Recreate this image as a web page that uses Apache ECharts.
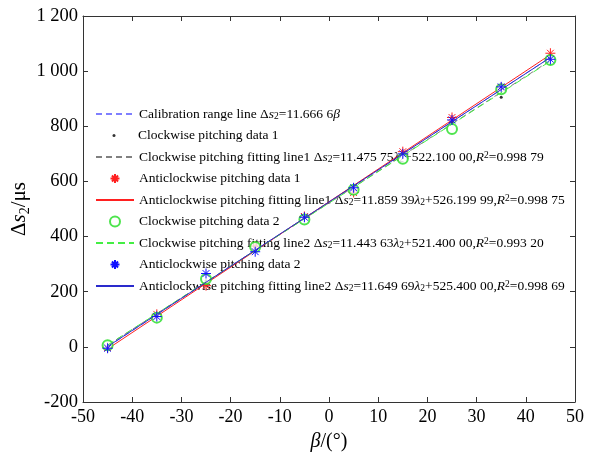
<!DOCTYPE html>
<html>
<head>
<meta charset="utf-8">
<script src="https://cdn.jsdelivr.net/npm/echarts@6/dist/echarts.min.js"></script>
<style>
html, body { margin: 0; padding: 0; background: #fff; }
#main { width: 595px; height: 458px; }
</style>
</head>
<body>
<div id="main"></div>
<script>
// 俯仰角 (°)
var beta = [-45, -35, -25, -15, -5, 5, 15, 25, 35, 45];
// 测量数据
var cwData1 = [0, 112, 240, 355, 468, 565, 695, 815, 905, 1050];
var acwData1 = [-2, 118, 222, 366, 473, 560, 708, 832, 940, 1065];
var cwData2 = [6, 106, 246, 362, 462, 570, 682, 790, 934, 1040];
var acwData2 = [-5, 110, 266, 345, 470, 577, 700, 823, 943, 1043];
// 拟合线端点
var lineX = [-45, 45];
var calibLine = [0, 1050];
var cwFit1 = [5.7, 1038.5];
var acwFit1 = [-7.5, 1059.9];
var cwFit2 = [6.4, 1036.4];
var acwFit2 = [1.2, 1049.6];

var FONT = 'Liberation Serif';
var STAR = 'path://M0,5L10,5M5,0L5,10M1.6,1.6L8.4,8.4M8.4,1.6L1.6,8.4';

function pairs(xs, ys) {
    var out = [];
    for (var i = 0; i < xs.length; i++) {
        out.push([xs[i], ys[i]]);
    }
    return out;
}

// 图例顺序及文字
var legendNames = ['calib', 'cw1', 'cwf1', 'acw1', 'acwf1', 'cw2', 'cwf2', 'acw2', 'acwf2'];
var legendText = {
    calib: 'Calibration range line \u0394{i|s}{sub|2}=11.666 6{i|\u03b2}',
    cw1: 'Clockwise pitching data 1',
    cwf1: 'Clockwise pitching fitting line1 \u0394{i|s}{sub|2}=11.475 75{i|\u03bb}{sub|2}+522.100 00,{i|R}{sup|2}=0.998 79',
    acw1: 'Anticlockwise pitching data 1',
    acwf1: 'Anticlockwise pitching fitting line1 \u0394{i|s}{sub|2}=11.859 39{i|\u03bb}{sub|2}+526.199 99,{i|R}{sup|2}=0.998 75',
    cw2: 'Clockwise pitching data 2',
    cwf2: 'Clockwise pitching fitting line2 \u0394{i|s}{sub|2}=11.443 63{i|\u03bb}{sub|2}+521.400 00,{i|R}{sup|2}=0.993 20',
    acw2: 'Anticlockwise pitching data 2',
    acwf2: 'Anticlockwise pitching fitting line2 \u0394{i|s}{sub|2}=11.649 69{i|\u03bb}{sub|2}+525.400 00,{i|R}{sup|2}=0.998 69'
};
var legendIconH = { calib: 10, cw1: 3, cwf1: 10, acw1: 9, acwf1: 10, cw2: 10, cwf2: 10, acw2: 9, acwf2: 10 };
var isLine = { calib: 1, cwf1: 1, acwf1: 1, cwf2: 1, acwf2: 1 };

function lineSeries(name, ys, color, type, z) {
    return {
        name: name, type: 'line', data: pairs(lineX, ys), symbol: 'none',
        lineStyle: { color: color, width: 1, type: type }, itemStyle: { color: color },
        z: z
    };
}

function starSeries(name, ys, color, z) {
    return {
        name: name, type: 'scatter', data: pairs(beta, ys), symbol: STAR, symbolSize: 10,
        itemStyle: { color: color, borderColor: color, borderWidth: 1, opacity: 1 },
        z: z
    };
}

var chart = echarts.init(document.getElementById('main'));

var LFS = 13.5;
var richStyles = {
    i: { fontFamily: FONT, fontStyle: 'italic', fontSize: LFS, color: '#000' },
    sub: { fontFamily: FONT, fontSize: 9.5, color: '#000', verticalAlign: 'bottom', lineHeight: 14 },
    sup: { fontFamily: FONT, fontSize: 9.5, color: '#000', verticalAlign: 'top', lineHeight: 14 }
};

// 每行一个图例，便于控制行距和图标大小
var ICON_W = 38;
var legends = [];
for (var k = 0; k < legendNames.length; k++) {
    var nm = legendNames[k];
    var item = { name: nm };
    var leftPos = 90;
    if (isLine[nm]) {
        item.itemStyle = { opacity: 0 };
    } else {
        // 散点图例只占符号宽度，补偏移
        leftPos += (ICON_W - legendIconH[nm]) / 2;
    }
    legends.push({
        orient: 'vertical', left: leftPos, top: 109 + k * 21.5 - 7,
        itemWidth: ICON_W, itemHeight: legendIconH[nm], itemGap: 0,
        selectedMode: false,
        textStyle: { fontFamily: FONT, fontSize: LFS, color: '#000', lineHeight: 14, rich: richStyles },
        formatter: function (name) { return legendText[name]; },
        data: [item]
    });
}

function boxAxis(extra) {
    var base = {
        type: 'value',
        axisLine: { onZero: false, lineStyle: { color: '#333', width: 1 } },
        axisTick: { inside: true, length: 5, lineStyle: { color: '#333' } },
        splitLine: { show: false }
    };
    for (var key in extra) base[key] = extra[key];
    return base;
}

chart.setOption({
    backgroundColor: '#fff',
    animation: false,
    grid: { left: 83, right: 20, top: 16, bottom: 56, outerBoundsMode: 'none', containLabel: false },
    legend: legends,
    xAxis: [boxAxis({
        min: -50, max: 50, interval: 10, position: 'bottom',
        name: '{i|\u03b2}/(\u00b0)', nameLocation: 'middle', nameGap: 30,
        nameTextStyle: { fontFamily: FONT, fontSize: 20, color: '#000',
            rich: { i: { fontFamily: FONT, fontStyle: 'italic', fontSize: 20, color: '#000' } } },
        axisLabel: { fontFamily: FONT, fontSize: 18, color: '#000', margin: 6 }
    }), boxAxis({
        min: -50, max: 50, interval: 10, position: 'top',
        axisLabel: { show: false }
    })],
    yAxis: [boxAxis({
        min: -200, max: 1200, interval: 200, position: 'left',
        name: '\u0394{i|s}{sub|2}/\u03bcs', nameLocation: 'middle', nameGap: 51, nameRotate: 90,
        nameMoveOverlap: false,
        nameTextStyle: { fontFamily: FONT, fontSize: 21, color: '#000',
            rich: {
                i: { fontFamily: FONT, fontStyle: 'italic', fontSize: 21, color: '#000' },
                sub: { fontFamily: FONT, fontSize: 14, color: '#000', verticalAlign: 'bottom', lineHeight: 26 }
            } },
        axisLabel: {
            fontFamily: FONT, fontSize: 18.5, color: '#000', margin: 5,
            formatter: function (v) {
                return Math.abs(v) >= 1000 ? String(v).replace(/(\d)(\d{3})$/, '$1 $2') : String(v);
            }
        }
    }), boxAxis({
        min: -200, max: 1200, interval: 200, position: 'right',
        axisLabel: { show: false }
    })],
    series: [
        lineSeries('calib', calibLine, '#7f7fff', [6, 4], 2),
        {
            name: 'cw1', type: 'scatter', data: pairs(beta, cwData1), symbol: 'circle', symbolSize: 3,
            itemStyle: { color: '#000' }, z: 3
        },
        lineSeries('cwf1', cwFit1, '#808080', [6, 4], 4),
        starSeries('acw1', acwData1, '#ff2020', 5),
        lineSeries('acwf1', acwFit1, '#ff2020', 'solid', 6),
        {
            name: 'cw2', type: 'scatter', data: pairs(beta, cwData2), symbol: 'emptyCircle', symbolSize: 10,
            itemStyle: { color: '#22dd22', borderColor: '#22dd22', borderWidth: 1 }, z: 7
        },
        lineSeries('cwf2', cwFit2, '#44ee44', [7, 4], 8),
        starSeries('acw2', acwData2, '#1010ff', 9),
        lineSeries('acwf2', acwFit2, '#2a2acc', 'solid', 10)
    ]
});
</script>
</body>
</html>
